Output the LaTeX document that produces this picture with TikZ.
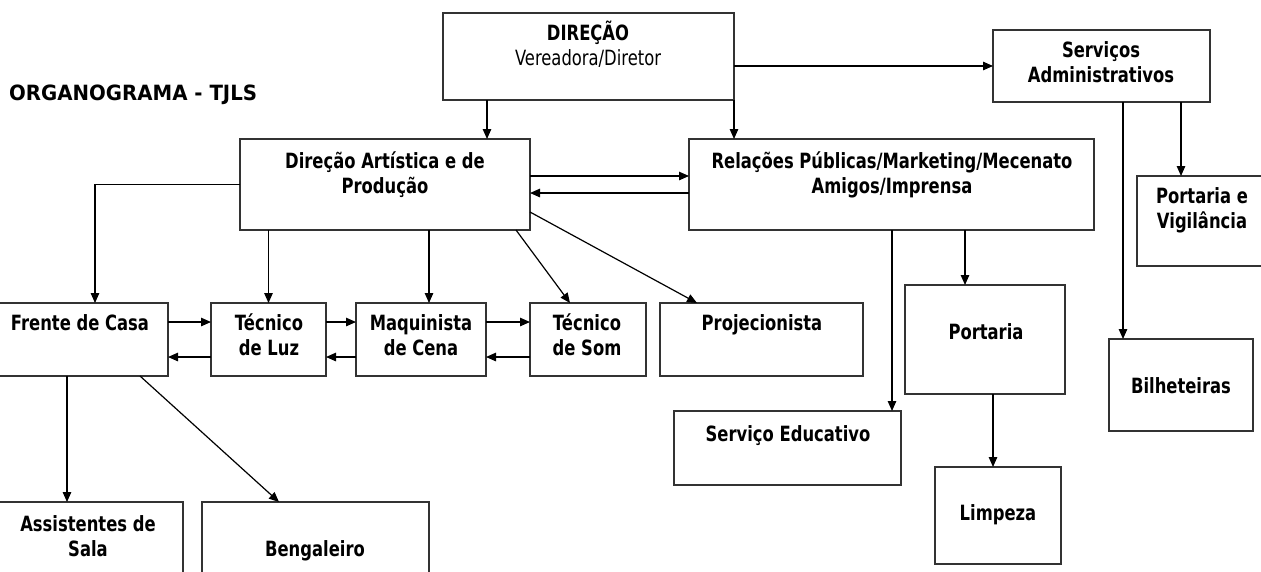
\documentclass[tikz,border=0pt]{standalone}
\usepackage{fontspec}
\setmainfont{DejaVu Sans}[FakeStretch=0.78]
\newfontfamily\titlefont{DejaVu Sans}[FakeStretch=0.94]
\usetikzlibrary{arrows.meta,calc}
\begin{document}
\begin{tikzpicture}[x=1pt,y=-1pt,
  box/.style={draw=black!80, line width=1.3pt, inner sep=0pt, outer sep=0pt},
  lbl/.style={font=\fontsize{21}{25}\selectfont\bfseries, align=center, inner sep=0pt},
  lblr/.style={font=\fontsize{21}{25}\selectfont, align=center, inner sep=0pt},
  arr/.style={line width=1.2pt, -{Triangle[length=10pt,width=8.5pt]}}]
\newcommand\bx[5]{\node[box, minimum width={#4-#2}, minimum height={#5-#3}] (#1) at ({(#2+#4)/2},{(#3+#5)/2}) {};}
\useasboundingbox (0,0) rectangle (1261,571);
% boxes
\bx{dir}{443}{13}{734}{100}
\bx{sa}{993}{30}{1210}{102}
\bx{dap}{240}{139}{530}{230}
\bx{rp}{689}{139}{1094}{230}
\bx{pv}{1137}{176}{1268}{266}
\bx{fc}{-7}{303}{168}{376}
\bx{tl}{211}{303}{326}{376}
\bx{mc}{356}{303}{486}{376}
\bx{ts}{530}{303}{646}{376}
\bx{pj}{660}{303}{863}{376}
\bx{port}{905}{285}{1065}{394}
\bx{se}{674}{411}{901}{485}
\bx{lim}{935}{467}{1061}{564}
\bx{bil}{1109}{339}{1253}{431}
\bx{as}{-7}{502}{183}{600}
\bx{ben}{202}{502}{429}{600}
% texts
\node[lbl, font=\fontsize{21}{25}\selectfont\titlefont\bfseries, anchor=west] (title) at (9,95) {\strut ORGANOGRAMA - TJLS};
\node[lbl] (tdir1) at (588,34) {\strut DIREÇÃO};
\node[lblr] (tdir2) at (588,60) {\strut Vereadora/Diretor};
\node[lbl] (tsa) at (1101,65) {\strut Serviços\\\strut Administrativos};
\node[lbl] (tdap) at (385,175.5) {\strut Direção Artística e de\\\strut Produção};
\node[lbl] (trp) at (892,175.5) {\strut Relações Públicas/Marketing/Mecenato\\\strut Amigos/Imprensa};
\node[lbl] (tpv) at (1202,211) {\strut Portaria e\\\strut Vigilância};
\node[lbl] (tfc) at (80,325) {\strut Frente de Casa};
\node[lbl] (ttl) at (269,338) {\strut Técnico\\\strut de Luz};
\node[lbl] (tmc) at (421,338) {\strut Maquinista\\\strut de Cena};
\node[lbl] (tts) at (587,338) {\strut Técnico\\\strut de Som};
\node[lbl] (tpj) at (762,325) {\strut Projecionista};
\node[lbl] (tport) at (986,334) {\strut Portaria};
\node[lbl] (tse) at (788,436) {\strut Serviço Educativo};
\node[lbl] (tlim) at (998,515) {\strut Limpeza};
\node[lbl] (tbil) at (1181,388) {\strut Bilheteiras};
\node[lbl] (tas) at (88,539) {\strut Assistentes de\\\strut Sala};
\node[lbl] (tben) at (315,551) {\strut Bengaleiro};
% coordinates
\coordinate (p1) at ($(dir.south west)+(44,0)$);
\coordinate (p2) at ($(dap.east)+(0,-8.5)$);
\coordinate (p3) at ($(dap.east)+(0,8.5)$);
\coordinate (p4) at ($(fc.north west)+(102,0)$);
\coordinate (p5) at ($(mc.north)+(8,0)$);
\coordinate (p6) at ($(fc.east)+(0,-17.5)$);
\coordinate (p7) at ($(fc.east)+(0,17.5)$);
\coordinate (p8) at ($(se.north east)+(-9,0)$);
\coordinate (p9) at ($(port.north west)+(60,0)$);
\coordinate (p10) at ($(lim.north west)+(58,0)$);
\coordinate (p11) at ($(pv.north west)+(44,0)$);
\coordinate (p12) at ($(bil.north west)+(14,0)$);
\coordinate (p13) at ($(fc.south west)+(74,0)$);
% connectors
\draw[arr] (p1) -- (p1 |- dap.north);
\draw[arr] (dir.south east) -- (dir.south east |- rp.north);
\draw[arr] (sa.west -| dir.east) -- (sa.west);
\draw[arr] (p2) -- (p2 -| rp.west);
\draw[arr] (p3 -| rp.west) -- (p3);
\draw[arr] (dap.west) -| (p4);
\draw[arr] (dap.south -| tl.north) -- (tl.north);
\draw[arr] (p5 |- dap.south) -- (p5);
\draw[arr] ($(dap.south west)+(276,0)$) -- ($(ts.north west)+(40,0)$);
\draw[arr] ($(dap.south east)+(0,-18)$) -- ($(pj.north west)+(37,0)$);
\draw[arr] (p6) -- (p6 -| tl.west);
\draw[arr] (p6 -| tl.east) -- (p6 -| mc.west);
\draw[arr] (p6 -| mc.east) -- (p6 -| ts.west);
\draw[arr] (p7 -| tl.west) -- (p7);
\draw[arr] (p7 -| mc.west) -- (p7 -| tl.east);
\draw[arr] (p7 -| ts.west) -- (p7 -| mc.east);
\draw[arr] (p13) -- (p13 |- as.north);
\draw[arr] ($(fc.south west)+(147,0)$) -- ($(ben.north west)+(77,0)$);
\draw[arr] (p8 |- rp.south) -- (p8);
\draw[arr] (p9 |- rp.south) -- (p9);
\draw[arr] (p10 |- port.south) -- (p10);
\draw[arr] (p11 |- sa.south) -- (p11);
\draw[arr] (p12 |- sa.south) -- (p12);
\end{tikzpicture}
\end{document}
